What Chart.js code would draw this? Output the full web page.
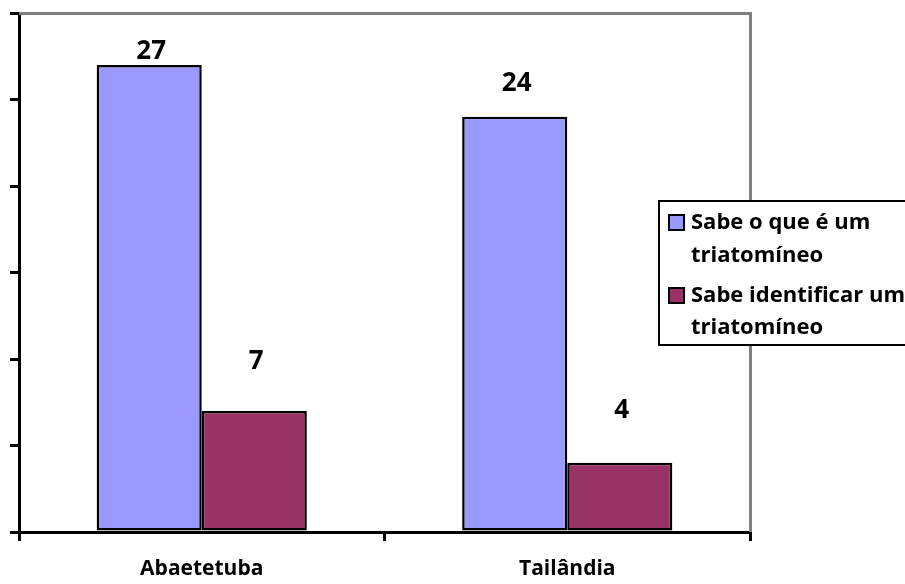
<!DOCTYPE html>
<html>
<head>
<meta charset="utf-8">
<style>
  html, body { margin: 0; padding: 0; background: #ffffff; }
  #wrap { width: 905px; height: 584px; }
</style>
<script src="https://cdn.jsdelivr.net/npm/chart.js@4.4.1/dist/chart.umd.min.js"></script>
</head>
<body>
<div id="wrap"><canvas id="chart" width="905" height="584"></canvas></div>
<script>
// Municipalities surveyed
const categories = ['Abaetetuba', 'Tailândia'];
// Number of respondents per answer
const knowsWhatItIs = [27, 24];
const canIdentifyIt = [7, 4];
// Legend text, one line per entry
const seriesLabels = [
  ['Sabe o que é um', 'triatomíneo'],
  ['Sabe identificar um', 'triatomíneo']
];
// Value axis
const yMin = 0, yMax = 30, yStep = 5;

const BLUE = '#9999FF';
const PLUM = '#993366';
const FONT = '"Open Sans", Lato, sans-serif';

// Vertical gap (px) between each bar top and its value label, per dataset/bar
const labelGap = [[13, 33], [49, 52]];

const valueLabels = {
  id: 'valueLabels',
  afterDatasetsDraw(chart) {
    const ctx = chart.ctx;
    ctx.save();
    ctx.fillStyle = '#000';
    ctx.font = 'bold 26px ' + FONT;
    ctx.textAlign = 'center';
    ctx.textBaseline = 'middle';
    chart.data.datasets.forEach((ds, di) => {
      chart.getDatasetMeta(di).data.forEach((bar, i) => {
        ctx.fillText(String(ds.data[i]), bar.x + 2, bar.y - labelGap[di][i]);
      });
    });
    ctx.restore();
  }
};

const frame = {
  id: 'frame',
  afterDraw(chart) {
    const { ctx, chartArea: a } = chart;
    ctx.save();
    ctx.strokeStyle = '#808080';
    ctx.lineWidth = 3;
    ctx.beginPath();
    ctx.moveTo(a.left, a.top + 0.5);
    ctx.lineTo(a.right + 0.5, a.top + 0.5);
    ctx.lineTo(a.right + 0.5, a.bottom);
    ctx.stroke();
    ctx.restore();
  }
};

const boxLegend = {
  id: 'boxLegend',
  afterDraw(chart) {
    const ctx = chart.ctx;
    const x0 = 659, y0 = 201, w = 260, h = 144;
    ctx.save();
    ctx.fillStyle = '#fff';
    ctx.fillRect(x0, y0, w, h);
    ctx.strokeStyle = '#000';
    ctx.lineWidth = 2;
    ctx.strokeRect(x0, y0, w, h);
    ctx.font = 'bold 22px ' + FONT;
    ctx.textBaseline = 'middle';
    ctx.textAlign = 'left';
    const rows = [[223, 256], [296, 328]];
    chart.data.datasets.forEach((ds, di) => {
      const [ya, yb] = rows[di];
      ctx.fillStyle = ds.backgroundColor;
      ctx.fillRect(669, ya - 8, 15, 15);
      ctx.lineWidth = 2;
      ctx.strokeStyle = '#000';
      ctx.strokeRect(669, ya - 8, 15, 15);
      ctx.fillStyle = '#000';
      ctx.fillText(seriesLabels[di][0], 691, ya);
      ctx.fillText(seriesLabels[di][1], 691, yb);
    });
    ctx.restore();
  }
};

new Chart(document.getElementById('chart'), {
  type: 'bar',
  data: {
    labels: categories,
    datasets: [
      { label: seriesLabels[0].join(' '), data: knowsWhatItIs, backgroundColor: BLUE,
        borderColor: '#000', borderWidth: 2.5, borderSkipped: false },
      { label: seriesLabels[1].join(' '), data: canIdentifyIt, backgroundColor: PLUM,
        borderColor: '#000', borderWidth: 2.5, borderSkipped: false }
    ]
  },
  options: {
    responsive: false,
    animation: false,
    events: [],
    layout: { padding: { left: 0, right: 155, top: 13, bottom: 0 } },
    datasets: { bar: { categoryPercentage: 0.575, barPercentage: 1 } },
    plugins: { legend: { display: false }, tooltip: { enabled: false } },
    scales: {
      x: {
        grid: { display: true, drawOnChartArea: false, drawTicks: true, tickLength: 9,
                color: '#000', lineWidth: 3, offset: true },
        border: { display: true, color: '#000', width: 3 },
        ticks: { color: '#000', font: { family: FONT, size: 21, weight: 'bold' }, padding: 15 },
        afterFit(s) { s.height = 52; }
      },
      y: {
        min: yMin, max: yMax,
        grid: { display: true, drawOnChartArea: false, drawTicks: true, tickLength: 9,
                color: '#000', lineWidth: 3 },
        border: { display: true, color: '#000', width: 3 },
        ticks: { stepSize: yStep, display: false },
        afterFit(s) { s.width = 19; }
      }
    }
  },
  plugins: [valueLabels, frame, boxLegend]
});
</script>
</body>
</html>
